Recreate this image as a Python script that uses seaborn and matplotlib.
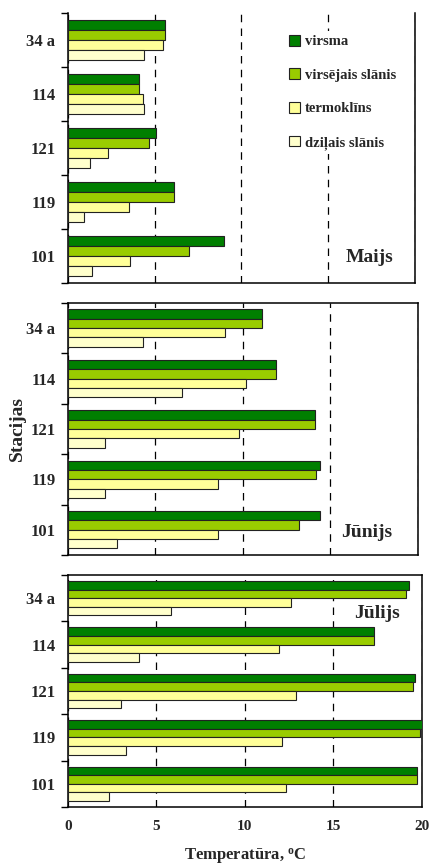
import numpy as np
import pandas as pd
import seaborn as sns
import matplotlib.pyplot as plt

# stations (top to bottom) and layers
stacijas = ["34 a", "114", "121", "119", "101"]
slani = ["virsma", "virsējais slānis", "termoklīns", "dziļais slānis"]
krasas = ["#007F00", "#99CC00", "#FFFF99", "#FFFFCC"]

# temperatures per month, rows = stations, cols = layers
maijs = [[5.6, 5.6, 5.5, 4.4],
         [4.1, 4.1, 4.3, 4.4],
         [5.1, 4.7, 2.3, 1.3],
         [6.1, 6.1, 3.5, 0.9],
         [9.0, 7.0, 3.6, 1.4]]
junijs = [[11.1, 11.1, 9.0, 4.3],
          [11.9, 11.9, 10.2, 6.5],
          [14.1, 14.1, 9.8, 2.1],
          [14.4, 14.2, 8.6, 2.1],
          [14.4, 13.2, 8.6, 2.8]]
julijs = [[19.3, 19.1, 12.6, 5.8],
          [17.3, 17.3, 11.9, 4.0],
          [19.6, 19.5, 12.9, 3.0],
          [20.1, 19.9, 12.1, 3.3],
          [19.7, 19.7, 12.3, 2.3]]

menesi = [("Maijs", maijs), ("Jūnijs", junijs), ("Jūlijs", julijs)]


def to_long(vals):
    rows = []
    for st, row in zip(stacijas, vals):
        for sl, v in zip(slani, row):
            rows.append({"stacija": st, "slanis": sl, "temp": v})
    return pd.DataFrame(rows)


sns.set_theme(style="white")
plt.rcParams["font.family"] = ["Liberation Serif", "DejaVu Serif"]
plt.rcParams["font.weight"] = "bold"
plt.rcParams["mathtext.fontset"] = "custom"
plt.rcParams["mathtext.rm"] = "Liberation Serif:bold"
plt.rcParams["mathtext.it"] = "Liberation Serif:bold"

fig = plt.figure(figsize=(4.3, 8.67), dpi=100)

# axes rectangles [left, bottom, width, height] in figure fractions
rects = [[0.158, 0.6736, 0.807, 0.3114],
         [0.158, 0.3599, 0.814, 0.2907],
         [0.158, 0.0692, 0.823, 0.2676]]
txt_pos = [(0.87, 0.093), (0.854, 0.091), (0.873, 0.832)]

for i, ((name, vals), rect) in enumerate(zip(menesi, rects)):
    ax = fig.add_axes(rect)
    df = to_long(vals)
    sns.barplot(data=df, x="temp", y="stacija", hue="slanis", orient="h",
                order=stacijas, hue_order=slani, palette=krasas,
                saturation=1, width=0.74, edgecolor="#222222", linewidth=0.8,
                ax=ax, legend=(i == 0), zorder=3)

    ax.set_xlim(0, 20)
    ax.set_ylim(4.5, -0.5)
    ax.set_xticks([0, 5, 10, 15, 20])
    ax.xaxis.grid(True, color="black", linestyle=(0, (6, 5)), linewidth=0.9, zorder=1)
    ax.yaxis.grid(False)
    ax.set_axisbelow(True)
    ax.tick_params(axis="x", length=0, labelsize=11, pad=9)
    ax.tick_params(axis="y", which="major", length=0, labelsize=12, pad=9)
    for lab in ax.get_xticklabels() + ax.get_yticklabels():
        lab.set_fontweight("bold")
    ax.set_yticks(np.arange(-0.5, 5, 1), minor=True)
    ax.tick_params(axis="y", which="minor", length=5, width=1, direction="out", color="black", left=True)
    if i < 2:
        ax.set_xticklabels([])
    ax.set_xlabel("")
    ax.set_ylabel("")
    for s in ax.spines.values():
        s.set_color("black")
        s.set_linewidth(1.1)
    if i == 0:
        ax.spines["top"].set_visible(False)
        h, l = ax.get_legend_handles_labels()
        leg = ax.legend(h, l, loc="upper left", bbox_to_anchor=(0.625, 0.935),
                        frameon=True, facecolor="white", edgecolor="none", framealpha=1,
                        prop={"size": 10.5, "weight": "bold"},
                        handlelength=0.75, handleheight=0.75,
                        handletextpad=0.3, labelspacing=1.38, borderpad=0.3,
                        borderaxespad=0)
        leg.set_zorder(5)
    ax.text(txt_pos[i][0], txt_pos[i][1], name, transform=ax.transAxes,
            ha="center", va="center", fontsize=14, fontweight="bold", zorder=6)

fig.text(0.04, 0.506, "Stacijas", rotation=90, ha="center", va="center",
         fontsize=14, fontweight="bold")
fig.text(0.57, 0.011, "Temperatūra, $^{\\mathrm{o}}$C", ha="center", va="center",
         fontsize=12, fontweight="bold")

fig.savefig("out.png", dpi=100)
